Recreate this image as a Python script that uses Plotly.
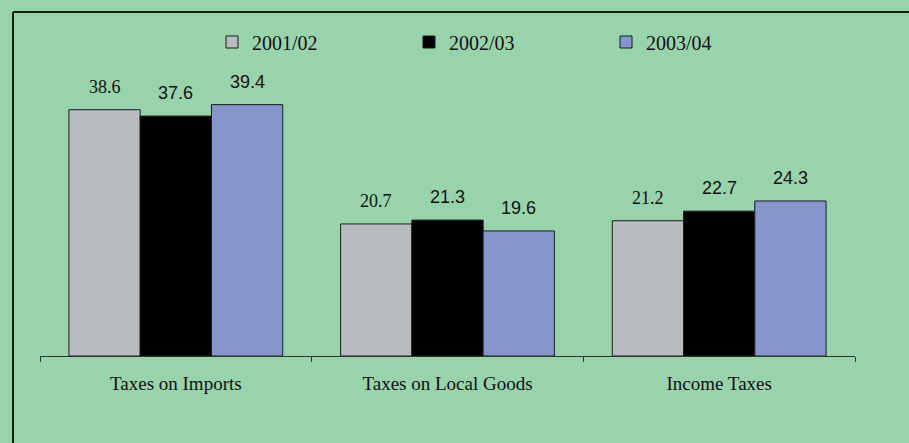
import plotly.graph_objects as go

# Tax revenue by category and fiscal year
categories = ["Taxes on Imports", "Taxes on Local Goods", "Income Taxes"]
years = ["2001/02", "2002/03", "2003/04"]
values_2001 = [38.6, 20.7, 21.2]
values_2002 = [37.6, 21.3, 22.7]
values_2003 = [39.4, 19.6, 24.3]

series = [values_2001, values_2002, values_2003]
fills = ["#B8BCBE", "#000000", "#8596CC"]
label_fonts = ["Liberation Serif, Times New Roman, serif",
               "Liberation Sans, Arial, sans-serif",
               "Liberation Sans, Arial, sans-serif"]

bg = "#99D3AB"
W, H = 909, 443
ml, mr, mt, mb = 40, 54, 40, 87
bargap = 0.213
bar_w = (1 - bargap) / len(series)

fig = go.Figure()
for name, vals, col in zip(years, series, fills):
    fig.add_trace(go.Bar(
        x=categories, y=vals, name=name,
        marker=dict(color=col, line=dict(color="#1c1c1c", width=1)),
    ))

# value labels above each bar
for k, (vals, font) in enumerate(zip(series, label_fonts)):
    for i, v in enumerate(vals):
        fig.add_annotation(
            x=i + (k - 1) * bar_w, y=v, xref="x", yref="y",
            text=f"{v:.1f}", showarrow=False,
            yanchor="middle", yshift=23,
            font=dict(family=font, size=18, color="#111111"),
        )

plot_w = W - ml - mr
plot_h = H - mt - mb
ymax = plot_h / 6.38

# outer frame (top and left edges visible)
fx = (13 - ml) / plot_w
fy = (H - mb - 12) / plot_h
fig.add_shape(type="line", xref="paper", yref="paper",
              x0=fx, y0=fy, x1=1.2, y1=fy,
              line=dict(color="#102010", width=2))
fig.add_shape(type="line", xref="paper", yref="paper",
              x0=fx, y0=fy, x1=fx, y1=-0.5,
              line=dict(color="#102010", width=2))

fig.update_layout(
    width=W, height=H,
    margin=dict(l=ml, r=mr, t=mt, b=mb),
    paper_bgcolor=bg, plot_bgcolor=bg,
    barmode="group", bargap=bargap, bargroupgap=0,
    showlegend=True,
    legend=dict(
        orientation="h", x=(212 - ml) / plot_w, xanchor="left",
        y=(H - mb - 42) / plot_h, yanchor="middle",
        entrywidth=152, entrywidthmode="pixels",
        font=dict(family="Liberation Serif, Times New Roman, serif", size=20, color="#111111"),
        bgcolor="rgba(0,0,0,0)",
    ),
    xaxis=dict(
        type="category", showline=True, linecolor="#333333", linewidth=1,
        ticks="outside", tickson="boundaries", ticklen=5, tickcolor="#333333",
        ticklabelstandoff=10,
        tickfont=dict(family="Liberation Serif, Times New Roman, serif", size=19, color="#111111"),
        showgrid=False, zeroline=False,
    ),
    yaxis=dict(range=[0, ymax], visible=False, showgrid=False, zeroline=False),
)

fig.write_html("out.html")
